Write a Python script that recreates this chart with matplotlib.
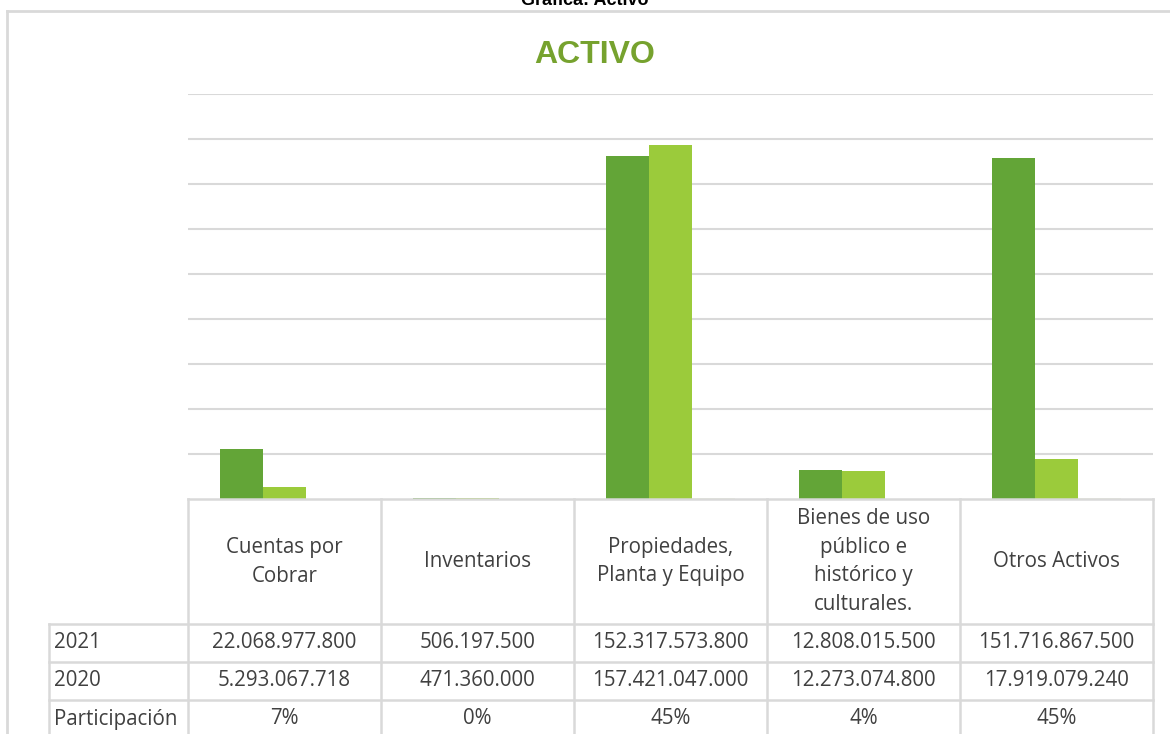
import matplotlib.pyplot as plt
from matplotlib.lines import Line2D
import numpy as np

# ---- data (values in billions for the bars) ----
categorias = ["Cuentas por\nCobrar", "Inventarios", "Propiedades,\nPlanta y Equipo",
              "Bienes de uso\npúblico e\nhistórico y\nculturales.", "Otros Activos"]
valores_2021 = [22.068977800, 0.506197500, 152.317573800, 12.808015500, 151.716867500]
valores_2020 = [5.293067718, 0.471360000, 157.421047000, 12.273074800, 17.919079240]
valores_part = [0.07, 0.0, 0.45, 0.04, 0.45]
texto_2021 = ["22.068.977.800", "506.197.500", "152.317.573.800", "12.808.015.500", "151.716.867.500"]
texto_2020 = ["5.293.067.718", "471.360.000", "157.421.047.000", "12.273.074.800", "17.919.079.240"]
participacion = ["7%", "0%", "45%", "4%", "45%"]
filas = ["2021", "2020", "Participación"]

W, H = 1170, 734
DARK = "#63A537"
LIGHT = "#9BCB3B"
THIRD = "#EEF5E4"
GRID = "#D9D9D9"
TXT = "#404040"

fig = plt.figure(figsize=(W / 100, H / 100), dpi=100)


def fx(px):
    return px / W


def fy(py):
    return 1 - py / H


# outer frame (no right border visible)
fig.add_artist(Line2D([fx(7), fx(1170)], [fy(11), fy(11)], color=GRID, lw=2))
fig.add_artist(Line2D([fx(7), fx(7)], [fy(11), fy(734)], color=GRID, lw=2))

fig.text(0.5, fy(5), "Gráfica: Activo", ha="center", va="baseline",
         fontsize=13, fontweight="bold", family="Liberation Sans", color="black")
fig.text(fx(595), fy(55), "ACTIVO", ha="center", va="center",
         fontsize=23, fontweight="bold", family="Liberation Sans", color="#76A22E")

# ---- bar area ----
left, right, top, base = 188, 1153, 94, 499
ax = fig.add_axes([fx(left), fy(base), fx(right - left), (base - top) / H])
x = np.arange(len(categorias))
bw = 0.223
ax.bar(x - bw, valores_2021, bw, color=DARK, zorder=3)
ax.bar(x, valores_2020, bw, color=LIGHT, zorder=3)
ax.bar(x + bw, valores_part, bw, color=THIRD, zorder=3)
ax.set_xlim(-0.5, len(categorias) - 0.5)
ax.set_ylim(0, 180)
ax.set_yticks(np.arange(20, 181, 20))
ax.yaxis.grid(True, color=GRID, lw=1.5, zorder=0)
ax.tick_params(left=False, bottom=False, labelleft=False, labelbottom=False)
for s in ax.spines.values():
    s.set_visible(False)

# ---- data table ----
col_edges = np.linspace(left, right, len(categorias) + 1)
row_edges = [499, 624, 662, 700, 740]
first_col = 49
tfont = dict(family="Open Sans", fontsize=14.8, color=TXT)


def hline(y, x0, x1):
    fig.add_artist(Line2D([fx(x0), fx(x1)], [fy(y), fy(y)], color=GRID, lw=1.8))


def vline(x0, y0, y1):
    fig.add_artist(Line2D([fx(x0), fx(x0)], [fy(y0), fy(y1)], color=GRID, lw=1.8))


hline(row_edges[0], left, right)
for y in row_edges[1:4]:
    hline(y, first_col, right)
vline(first_col, row_edges[1], row_edges[4])
for xe in col_edges:
    vline(xe, row_edges[0], row_edges[4])

centers = (col_edges[:-1] + col_edges[1:]) / 2
for i, c in enumerate(categorias):
    fig.text(fx(centers[i]), fy((row_edges[0] + row_edges[1]) / 2), c,
             ha="center", va="center", linespacing=1.5, **tfont)

valores_tabla = [texto_2021, texto_2020, participacion]
for r, (nombre, fila) in enumerate(zip(filas, valores_tabla)):
    yc = fy((row_edges[r + 1] + row_edges[r + 2]) / 2 - 1) if r < 2 else fy(719)
    fig.text(fx(first_col + 5), yc, nombre, ha="left", va="center", **tfont)
    for i, v in enumerate(fila):
        fig.text(fx(centers[i]), yc, v, ha="center", va="center", **tfont)

fig.savefig("out.png", dpi=100)
